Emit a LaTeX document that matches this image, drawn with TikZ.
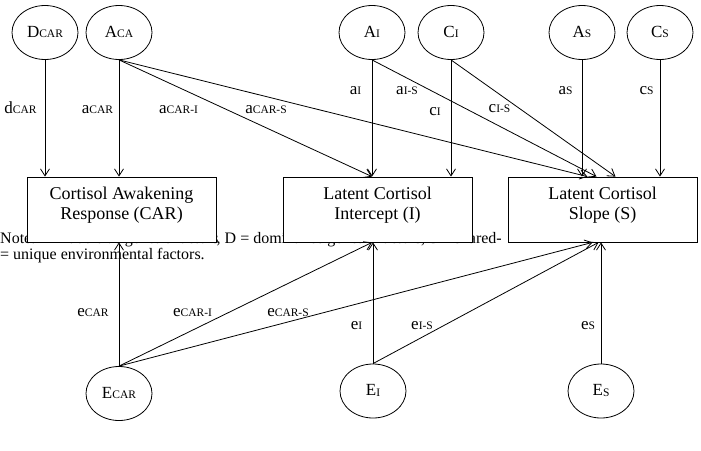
\documentclass[tikz,border=0pt]{standalone}
\usepackage{fontspec}
\setmainfont{Liberation Serif}
\usetikzlibrary{arrows.meta,shapes.geometric}
\newcommand\vlab[2]{#1{\fontsize{11.5}{12}\selectfont\raisebox{-0.7pt}{#2}}}
\begin{document}
\begin{tikzpicture}[x=1pt,y=-1pt,
 ell/.style={ellipse,draw,line width=0.8pt,minimum width=66pt,minimum height=54pt,inner sep=0pt,font=\fontsize{17}{20}\selectfont,text height=10pt,text depth=1pt},
 rbox/.style={rectangle,draw,fill=white,line width=0.8pt,minimum width=189pt,minimum height=65pt,inner sep=0pt},
 boxtext/.style={align=center,inner sep=0pt,anchor=north,font=\fontsize{18}{20}\selectfont},
 elab/.style={inner sep=0pt,anchor=base,font=\fontsize{17}{20}\selectfont},
 notetext/.style={inner sep=0pt,font=\fontsize{16}{16}\selectfont},
 conn/.style={line width=0.8pt,-{Straight Barb[length=7pt,width=9pt]}}]
\useasboundingbox (0,0) rectangle (701,450);

% note text (partly hidden behind the boxes)
\node[notetext,anchor=base west] (n1) at (0,243) {Note. A = additive genetic factors};
\node[notetext,anchor=base west] (n2) at (216.5,243) {, D = dominance genetic factors,};
\node[notetext,anchor=base east] (n3) at (502,243) {C = shared-};
\node[notetext,anchor=base west] (n4) at (0,259) {= unique environmental factors.};

% boxes
\node[rbox] (car) at (121.5,209.5) {};
\node[rbox] (int) at (377.5,209.5) {};
\node[rbox] (slp) at (602.5,209.5) {};
\node[boxtext] (cart) at (121.5,186.7) {Cortisol Awakening\\Response (CAR)};
\node[boxtext] (intt) at (377.5,186.7) {Latent Cortisol\\Intercept (I)};
\node[boxtext] (slpt) at (602.5,186.7) {Latent Cortisol\\Slope (S)};

% latent factors
\node[ell] (dcar) at (45,32.5) {\vlab{D}{CAR}};
\node[ell] (aca) at (119,32.5) {\vlab{A}{CA}};
\node[ell] (ai) at (372,32.5) {\vlab{A}{I}};
\node[ell] (ci) at (451,32.5) {\vlab{C}{I}};
\node[ell] (as) at (582,32.5) {\vlab{A}{S}};
\node[ell] (cs) at (660,32.5) {\vlab{C}{S}};
\node[ell] (ecar) at (119,393.5) {\vlab{E}{CAR}};
\node[ell] (ei) at (373,391) {\vlab{E}{I}};
\node[ell] (es) at (601,391) {\vlab{E}{S}};

% paths from top factors
\draw[conn] (dcar.south) -- (dcar |- car.north);
\draw[conn] (aca.south) -- (aca |- car.north);
\draw[conn] (aca.south) -- (ai |- int.north);
\draw[conn] (aca.south) -- ([xshift=-15pt]slp.north);
\draw[conn] (ai.south) -- (ai |- int.north);
\draw[conn] (ci.south) -- (ci |- int.north);
\draw[conn] (ai.south) -- ([xshift=-6pt]slp.north);
\draw[conn] (ci.south) -- ([xshift=13pt]slp.north);
\draw[conn] (as.south) -- (as |- slp.north);
\draw[conn] (cs.south) -- (cs |- slp.north);

% paths from bottom factors
\draw[conn] (ecar.north) -- (ecar |- car.south);
\draw[conn] (ecar.north) -- ([xshift=-5.5pt]int.south);
\draw[conn] (ecar.north) -- ([xshift=-10pt]slp.south);
\draw[conn] (ei.north) -- (ei |- int.south);
\draw[conn] (ei.north) -- ([xshift=-4pt]slp.south);
\draw[conn] (es.north) -- (es |- slp.south);

% path labels
\node[elab] (l1) at (20.5,113) {\vlab{d}{CAR}};
\node[elab] (l2) at (97.5,113) {\vlab{a}{CAR}};
\node[elab] (l3) at (178.5,113) {\vlab{a}{CAR-I}};
\node[elab] (l4) at (266,113) {\vlab{a}{CAR-S}};
\node[elab] (l5) at (355.5,94) {\vlab{a}{I}};
\node[elab] (l6) at (407,94) {\vlab{a}{I-S}};
\node[elab] (l7) at (435,115) {\vlab{c}{I}};
\node[elab] (l8) at (499.5,112) {\vlab{c}{I-S}};
\node[elab] (l9) at (565.5,94) {\vlab{a}{S}};
\node[elab] (l10) at (646.5,94) {\vlab{c}{S}};
\node[elab] (l11) at (93,316) {\vlab{e}{CAR}};
\node[elab] (l12) at (192.5,316) {\vlab{e}{CAR-I}};
\node[elab] (l13) at (288,316) {\vlab{e}{CAR-S}};
\node[elab] (l14) at (356.5,329) {\vlab{e}{I}};
\node[elab] (l15) at (422,329) {\vlab{e}{I-S}};
\node[elab] (l16) at (588,329) {\vlab{e}{S}};
\end{tikzpicture}
\end{document}
